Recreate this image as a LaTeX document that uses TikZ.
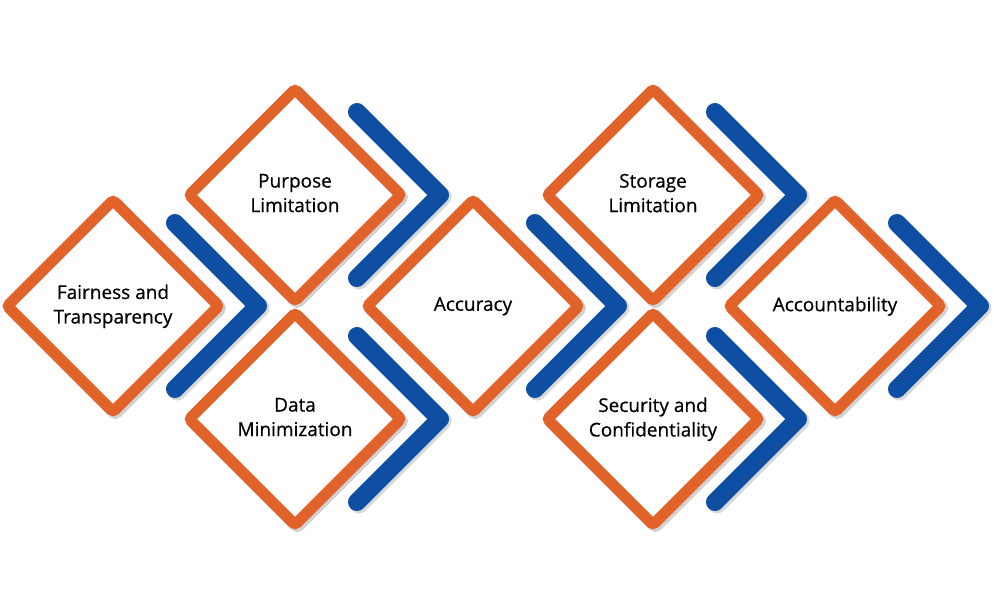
\documentclass[tikz,border=0pt]{standalone}
\usepackage{fontspec}
\setmainfont{Open Sans}
\usetikzlibrary{shapes.geometric}
\definecolor{dorange}{RGB}{225,99,42}
\definecolor{dblue}{RGB}{14,78,163}
\tikzset{
  box/.style={shape=diamond, aspect=1, minimum size=216pt, inner sep=0pt,
    draw=dorange, line width=11pt, fill=white, rounded corners=3pt,
    align=center, font=\fontsize{19}{24.5}\selectfont\addfontfeature{FakeBold=0.5}, text=black,
    text depth=4pt,
    preaction={draw=black, draw opacity=0.18, line width=12pt, fill=none,
      transform canvas={shift={(2.2pt,-2.2pt)}}}},
  chev/.style={draw=dblue, line width=18pt, line cap=round, line join=round},
  chevshadow/.style={draw=black, draw opacity=0.15, line width=19pt, line cap=round, line join=round,
      transform canvas={shift={(2pt,-2pt)}}}
}
\begin{document}
\begin{tikzpicture}[x=1pt,y=-1pt]
\useasboundingbox (0,0) rectangle (994,615);
% chevron coordinates
\foreach \n/\cx/\cy in {c1/113/306, c2/295/195, c3/295/419, c4/473/306, c5/653/195, c6/653/419, c7/835/306}{
  \coordinate (\n a) at (\cx+62,\cy-83);
  \coordinate (\n t) at (\cx+145,\cy);
  \coordinate (\n b) at (\cx+62,\cy+83);
}
\foreach \n in {c1,c2,c3,c4,c5,c6,c7}{
  \draw[chevshadow] (\n a) -- (\n t) -- (\n b);
  \draw[chev] (\n a) -- (\n t) -- (\n b);
}
\node[box] (fair) at (113,306) {Fairness and\\Transparency};
\node[box] (purp) at (295,195) {Purpose\\Limitation};
\node[box] (data) at (295,419) {Data\\Minimization};
\node[box] (accu) at (473,306) {Accuracy};
\node[box] (stor) at (653,195) {Storage\\Limitation};
\node[box] (secu) at (653,419) {Security and\\Confidentiality};
\node[box] (acct) at (835,306) {Accountability};
\end{tikzpicture}
\end{document}
